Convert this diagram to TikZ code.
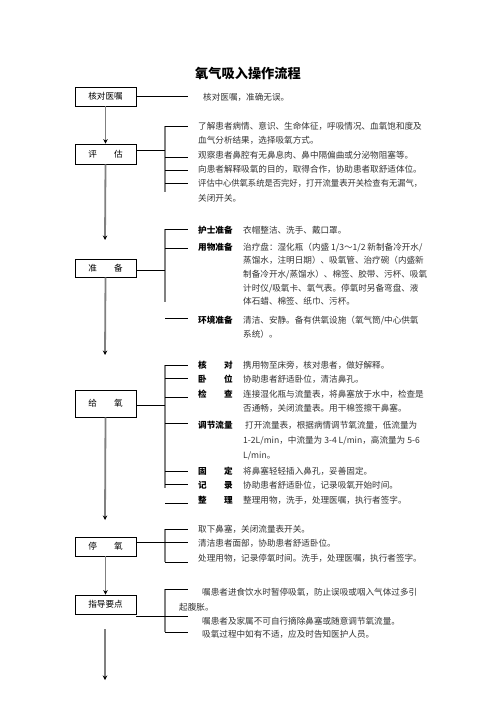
\documentclass[tikz,border=0pt]{standalone}
\usepackage{fontspec}
\newfontfamily\cjk{Noto Sans CJK SC}
\usetikzlibrary{arrows.meta}
\newcommand\myline[4]{\node[txt] (#1) at (#2,#3) {#4};}
\newcommand\mylabel[4]{\node[lbl] (#1) at (#2,#3) {#4};}
\newcommand\spread[2]{\makebox[4em][s]{#1\hfill #2}}
\begin{document}
\begin{tikzpicture}[x=1pt,y=-1pt,
  box/.style={draw=black,line width=0.8pt,fill=white,minimum width=61pt,inner sep=0pt,font=\cjk\fontsize{8.6}{10}\selectfont},
  flow/.style={draw=black!50,line width=1.8pt},
  flowarrow/.style={flow,-{Stealth[length=4.5pt,width=4.5pt,color=black]}},
  brk/.style={draw=black!50,line width=1.8pt},
  tick/.style={draw=black,line width=0.8pt},
  txt/.style={anchor=base west,inner sep=0pt,text=black!80,font=\cjk\fontsize{8.6}{14.4}\selectfont},
  lbl/.style={anchor=base west,inner sep=0pt,text=black,font=\cjk\bfseries\fontsize{8.6}{14.4}\selectfont},
]
\useasboundingbox[fill=white] (0,0) rectangle (496,702);

% title
\node[anchor=base,inner sep=0pt,font=\cjk\bfseries\fontsize{13.2}{15}\selectfont] (title) at (248,78) {氧气吸入操作流程};

% boxes
\node[box,minimum height=19pt] (b1) at (105.5,96.5) {核对医嘱};
\node[box,minimum height=20pt] (b2) at (105.5,154) {评\hspace{2em}估};
\node[box,minimum height=18pt] (b3) at (105.5,268) {准\hspace{2em}备};
\node[box,minimum height=27pt] (b4) at (105.5,403.5) {给\hspace{2em}氧};
\node[box,minimum height=19pt] (b5) at (105.5,546.5) {停\hspace{2em}氧};
\node[box,minimum height=19pt] (b6) at (105.5,604.5) {指导要点};

% flow coordinates
\coordinate (a3) at (105,240);
\coordinate (a4) at (105,355);
\coordinate (a5) at (105,520);
\coordinate (s7) at (105,629);
\coordinate (a7) at (105,680);

\draw[flowarrow] (b1.south) -- (b2.north);
\draw[flowarrow] (b2.south) -- (a3);
\draw[flowarrow] (b3.south) -- (a4);
\draw[flowarrow] (b4.south) -- (a5);
\draw[flowarrow] (b5.south) -- (b6.north);
\draw[flowarrow] (s7) -- (a7);

% box 1 connector and text
\coordinate (c1) at (188,97);
\draw[tick] (b1.east) -- (b1.east -| c1);
\myline{t1}{203}{100.3}{核对医嘱，准确无误。}

% ---- 评估 bracket
\coordinate (k2t) at (165,126);
\coordinate (k2b) at (165,192);
\coordinate (j2) at (165,150);
\draw[brk] (k2t) -- (k2b);
\draw[tick] (b2.east |- j2) -- (j2);
\foreach \yy in {126,157,170,183} \draw[tick] (165,\yy) -- (188,\yy);
\myline{t2a}{198}{129.3}{了解患者病情、意识、生命体征，呼吸情况、血氧饱和度及}
\myline{t2b}{198}{143.7}{血气分析结果，选择吸氧方式。}
\myline{t2c}{198}{158.1}{观察患者鼻腔有无鼻息肉、鼻中隔偏曲或分泌物阻塞等。}
\myline{t2d}{198}{172.5}{向患者解释吸氧的目的，取得合作，协助患者取舒适体位。}
\myline{t2e}{198}{186.9}{\scalebox{0.965}[1]{评估中心供氧系统是否完好，打开流量表开关检查有无漏气，}}
\myline{t2f}{198}{201.3}{关闭开关。}

% ---- 准备 bracket
\coordinate (k3t) at (165,229);
\coordinate (k3b) at (165,302);
\coordinate (j3) at (165,270);
\draw[brk] (k3t) -- (k3b);
\draw[tick] (b3.east |- j3) -- (j3);
\foreach \yy in {229,248,318} \draw[tick] (165,\yy) -- (188,\yy);
\mylabel{l3a}{198}{233.3}{护士准备}
\myline{t3a}{243}{233.3}{衣帽整洁、洗手、戴口罩。}
\mylabel{l3b}{198}{250.3}{用物准备}
\myline{t3b}{243}{250.3}{治疗盘：湿化瓶（内盛 1/3～1/2 新制备冷开水/}
\myline{t3c}{243}{263.9}{蒸馏水，注明日期）、吸氧管、治疗碗（内盛新}
\myline{t3d}{243}{277.5}{制备冷开水/蒸馏水）、棉签、胶带、污杯、吸氧}
\myline{t3e}{243}{291.1}{计时仪/吸氧卡、氧气表。停氧时另备弯盘、液}
\myline{t3f}{243}{304.7}{体石蜡、棉签、纸巾、污杯。}
\mylabel{l3g}{198}{323.3}{环境准备}
\myline{t3g}{243}{323.3}{清洁、安静。备有供氧设施（氧气筒/中心供氧}
\myline{t3h}{243}{337.3}{系统）。}

% ---- 给氧 bracket
\coordinate (k4t) at (165,365);
\coordinate (k4b) at (165,488);
\coordinate (j4) at (165,405);
\draw[brk] (k4t) -- (k4b);
\draw[tick] (b4.east |- j4) -- (j4);
\foreach \yy in {365,378,397,423,471,484,503} \draw[tick] (165,\yy) -- (188,\yy);
\mylabel{l4a}{198}{368.3}{\spread{核}{对}}
\myline{t4a}{243}{368.3}{携用物至床旁，核对患者，做好解释。}
\mylabel{l4b}{198}{382.3}{\spread{卧}{位}}
\myline{t4b}{243}{382.3}{协助患者舒适卧位，清洁鼻孔。}
\mylabel{l4c}{198}{397.3}{\spread{检}{查}}
\myline{t4c}{243}{397.3}{连接湿化瓶与流量表，将鼻塞放于水中，检查是}
\myline{t4d}{243}{411.7}{否通畅，关闭流量表。用干棉签擦干鼻塞。}
\mylabel{l4e}{198}{428.3}{调节流量}
\myline{t4e}{245}{428.3}{打开流量表，根据病情调节氧流量，低流量为}
\myline{t4f}{243}{443.3}{1-2L/min，中流量为 3-4 L/min，高流量为 5-6}
\myline{t4g}{243}{458.3}{L/min。}
\mylabel{l4h}{198}{474.3}{\spread{固}{定}}
\myline{t4h}{243}{474.3}{将鼻塞轻轻插入鼻孔，妥善固定。}
\mylabel{l4i}{198}{488.3}{\spread{记}{录}}
\myline{t4i}{243}{488.3}{协助患者舒适卧位，记录吸氧开始时间。}
\mylabel{l4j}{198}{503.3}{\spread{整}{理}}
\myline{t4j}{243}{503.3}{整理用物，洗手，处理医嘱，执行者签字。}

% ---- 停氧 bracket
\coordinate (k5t) at (165,529);
\coordinate (k5b) at (165,562);
\coordinate (j5) at (188,542);
\draw[brk] (k5t) -- (k5b);
\draw[tick] (b5.east |- j5) -- (j5);
\foreach \yy in {529,562} \draw[tick] (165,\yy) -- (188,\yy);
\myline{t5a}{198}{532.3}{取下鼻塞，关闭流量表开关。}
\myline{t5b}{198}{546.8}{清洁患者面部，协助患者舒适卧位。}
\myline{t5c}{198}{561.3}{处理用物，记录停氧时间。洗手，处理医嘱，执行者签字。}

% ---- 指导要点 bracket
\coordinate (k6t) at (165,589);
\coordinate (k6b) at (165,632);
\coordinate (j6) at (188,616);
\draw[brk] (k6t) -- (k6b);
\draw[tick] (b6.south east |- j6) -- (j6);
\foreach \yy in {589,632} \draw[tick] (165,\yy) -- (188,\yy);
\myline{t6a}{202}{595.3}{嘱患者进食饮水时暂停吸氧，防止误吸或咽入气体过多引}
\myline{t6b}{179}{610.3}{起腹胀。}
\myline{t6c}{202}{624.3}{嘱患者及家属不可自行摘除鼻塞或随意调节氧流量。}
\myline{t6d}{202}{637.3}{吸氧过程中如有不适，应及时告知医护人员。}
\end{tikzpicture}
\end{document}
